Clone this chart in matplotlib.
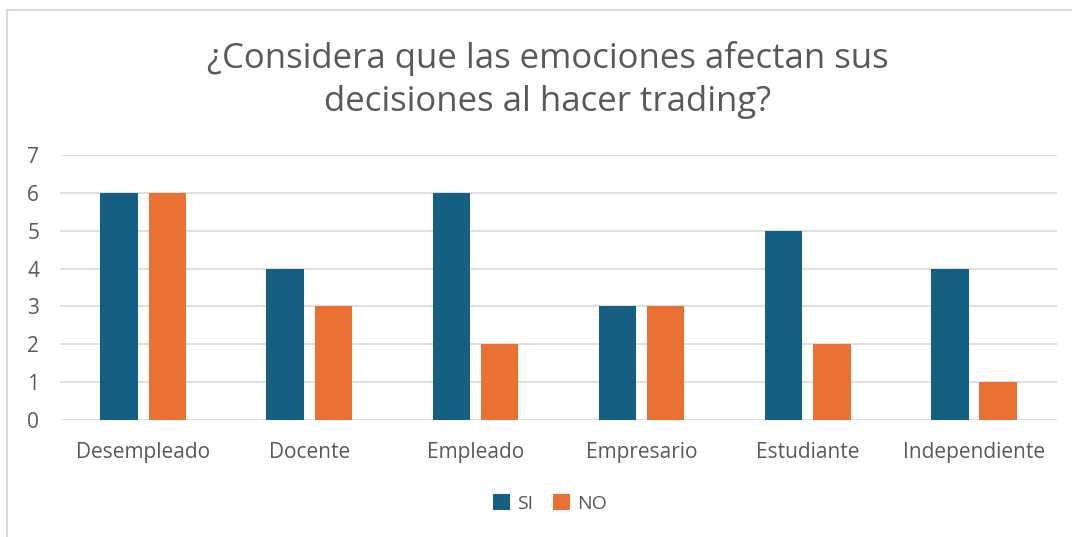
import matplotlib
matplotlib.use('Agg')
import matplotlib.pyplot as plt
import matplotlib.patches as patches
import numpy as np

categories = ['Desempleado', 'Docente', 'Empleado', 'Empresario', 'Estudiante', 'Independiente']
si_values = [6, 4, 6, 3, 5, 4]
no_values = [6, 3, 2, 3, 2, 1]
series_names = ['SI', 'NO']

plt.rcParams['font.family'] = ['Open Sans', 'DejaVu Sans']
text_color = '#595959'

fig = plt.figure(figsize=(10.72, 5.37), dpi=100)
ax = fig.add_axes([0.056, 0.218, 0.93, 0.493])

# chart border (cut at right and bottom in reference)
fig.patches.append(patches.Rectangle((7 / 1072, -0.1), 1.2, 1 - 10 / 537 + 0.1,
                                     transform=fig.transFigure, fill=False,
                                     edgecolor='#d9d9d9', linewidth=1.5))

x = np.arange(len(categories))
w = 0.225
ax.bar(x - 0.145, si_values, w, color='#156082', label=series_names[0], zorder=3)
ax.bar(x + 0.145, no_values, w, color='#E97132', label=series_names[1], zorder=3)

ax.set_xlim(-0.5, len(categories) - 0.5)
ax.set_ylim(0, 7)
ax.set_yticks(range(0, 8))
ax.grid(axis='y', color='#d9d9d9', linewidth=1.2, zorder=0)
for s in ax.spines.values():
    s.set_visible(False)
ax.tick_params(length=0, labelsize=15, colors=text_color)
ax.tick_params(axis='y', pad=15)
ax.tick_params(axis='x', pad=16)
ax.set_xticks(x)
ax.set_xticklabels(categories)

fig.text(0.511, 0.851, '¿Considera que las emociones afectan sus\ndecisiones al hacer trading?',
         ha='center', va='center', fontsize=25, color=text_color, linespacing=1.32)

fig.legend(loc='center', bbox_to_anchor=(0.513, 0.062), ncol=2, frameon=False,
           fontsize=14, labelcolor=text_color, handlelength=0.9, handleheight=0.9,
           handletextpad=0.35, columnspacing=1.0)

fig.savefig('out.png', dpi=100)
